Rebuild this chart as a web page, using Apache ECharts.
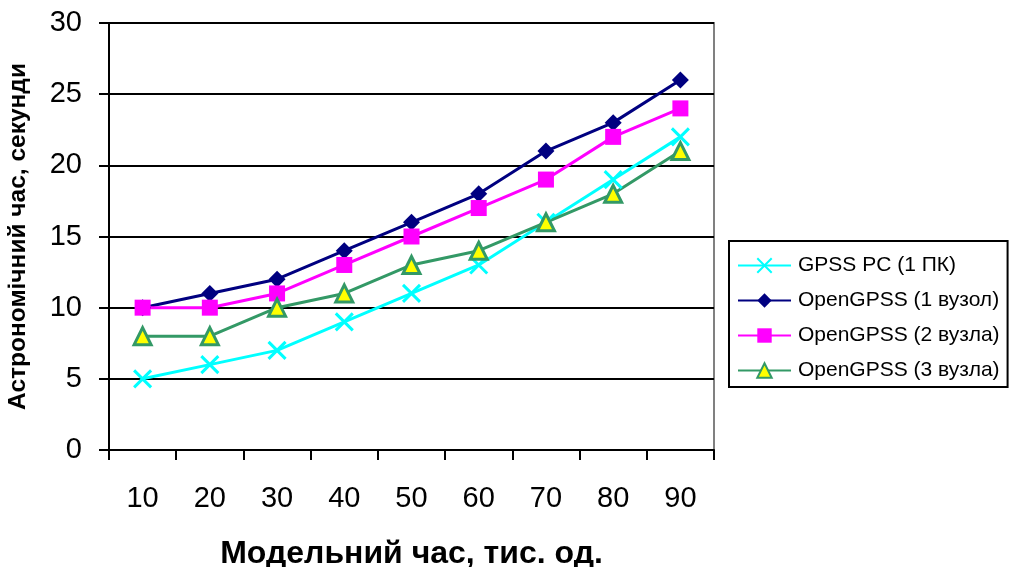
<!DOCTYPE html>
<html><head><meta charset="utf-8">
<script src="https://cdn.jsdelivr.net/npm/echarts@6/dist/echarts.min.js"></script>
<style>html,body{margin:0;padding:0;background:#fff}#c{width:1011px;height:567px}</style>
</head><body><div id="c"></div>
<script>
const categories = ['10','20','30','40','50','60','70','80','90'];
const gpssPC = [5,6,7,9,11,13,16,19,22];
const open1 = [10,11,12,14,16,18,21,23,26];
const open2 = [10,10,11,13,15,17,19,22,24];
const open3 = [8,8,10,11,13,14,16,18,21];
const seriesNames = ['GPSS PC (1 ПК)','OpenGPSS (1 вузол)','OpenGPSS (2 вузла)','OpenGPSS (3 вузла)'];

const chart = echarts.init(document.getElementById('c'));
const F = '"Liberation Sans", Arial, sans-serif';
chart.setOption({
  animation:false,
  textStyle:{fontFamily:F},
  grid:{left:109,right:297,top:23,bottom:117,show:true,borderColor:'#808080',borderWidth:2,
        containLabel:false,outerBoundsMode:'none'},
  legend:{
    orient:'vertical', left:729, top:241,
    padding:[14,8,6,8], itemGap:14, itemWidth:53, itemHeight:18,
    borderColor:'#000', borderWidth:2,
    textStyle:{fontSize:21,color:'#000',fontFamily:F,padding:[0,0,0,2],lineHeight:18},
    data:seriesNames
  },
  xAxis:{
    type:'category', data:categories, boundaryGap:true,
    axisLine:{lineStyle:{color:'#000',width:2}},
    axisTick:{show:true,length:10,lineStyle:{color:'#000',width:2}},
    axisLabel:{fontSize:29,color:'#000',margin:34,fontFamily:F},
    name:'Модельний час, тис. од.', nameLocation:'middle', nameGap:88,
    nameTextStyle:{fontSize:32,fontWeight:'bold',color:'#000',fontFamily:F}
  },
  yAxis:{
    type:'value', min:0, max:30, interval:5,
    axisLine:{show:true,lineStyle:{color:'#000',width:2}},
    axisTick:{show:true,length:10,lineStyle:{color:'#000',width:2}},
    axisLabel:{fontSize:29,color:'#000',margin:27,fontFamily:F},
    splitLine:{lineStyle:{color:'#000',width:2}},
    name:'Астрономічний час, секунди', nameLocation:'middle', nameGap:78,
    nameTextStyle:{fontSize:24.5,fontWeight:'bold',color:'#000',fontFamily:F}
  },
  series:[
    {name:seriesNames[0],type:'line',data:gpssPC,symbol:'path://M0,0L10,10M10,0L0,10',symbolSize:17,
     lineStyle:{color:'#00FFFF',width:3},itemStyle:{color:'none',borderColor:'#00FFFF',borderWidth:3}},
    {name:seriesNames[1],type:'line',data:open1,symbol:'diamond',symbolSize:17,
     lineStyle:{color:'#000080',width:3},itemStyle:{color:'#000080'}},
    {name:seriesNames[2],type:'line',data:open2,symbol:'rect',symbolSize:16,
     lineStyle:{color:'#FF00FF',width:3},itemStyle:{color:'#FF00FF'}},
    {name:seriesNames[3],type:'line',data:open3,symbol:'triangle',symbolSize:17,
     lineStyle:{color:'#339966',width:3},itemStyle:{color:'#FFFF00',borderColor:'#339966',borderWidth:3}}
  ]
});
</script></body></html>
